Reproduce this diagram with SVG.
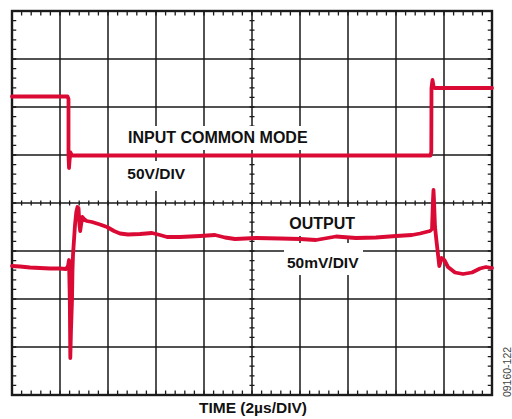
<svg xmlns="http://www.w3.org/2000/svg" width="512" height="419" viewBox="0 0 512 419">
<style>
.grid{stroke:#1a1a1a;stroke-width:1.5;fill:none}
.frame{stroke:#1a1a1a;stroke-width:2.4;fill:none}
.trace{stroke:#da0a35;stroke-width:3.8;fill:none;stroke-linejoin:round;stroke-linecap:round}
.lbl{font-family:"Liberation Sans",Arial,sans-serif;font-weight:bold;font-size:15.5px;fill:#111}
.box{fill:#fff}
</style>
<rect width="512" height="419" fill="#fff"/>
<g id="grid">
<path class="grid" d="M60,11V395M108,11V395M156,11V395M204,11V395M252,11V395M300,11V395M348,11V395M396,11V395M444,11V395M12,59H492M12,107H492M12,155H492M12,203H492M12,251H492M12,299H492M12,347H492"/>
<g id="ticks" fill="none" stroke="#1a1a1a" stroke-dasharray="1.3 8.3" stroke-dashoffset="0.65">
<path d="M12,13.25H492" stroke-width="4.5"/>
<path d="M12,392.75H492" stroke-width="4.5"/>
<path d="M14,11V395" stroke-width="4.5"/>
<path d="M490,11V395" stroke-width="4.5"/>
<path d="M12,203H492" stroke-width="5"/>
<path d="M252,11V395" stroke-width="5"/>
</g>
<rect class="frame" x="12" y="11" width="480" height="384"/>
</g>
<g id="label-boxes">
<rect class="box" x="124" y="126" width="188" height="24"/>
<rect class="box" x="122" y="161" width="70" height="30"/>
<rect class="box" x="284" y="207" width="79" height="29"/>
<rect class="box" x="284" y="243" width="79" height="32"/>
</g>
<g id="traces">
<path id="input-trace" class="trace" d="M12,96.5 L67.5,96.5 L68.5,99 L68.5,155 L69,168 L69.6,160 L70.5,152.5 L72,155.5 L430.5,155.5 L431.3,152 L431.5,88 L432.5,80 L433.5,86 L434.5,88 L492,88"/>
<path id="output-trace" class="trace" d="M12,266 L20,266.5 L30,267.5 L40,268 L50,268.5 L60,268.5 L66,269 L68,266 L69,260 L69.8,300 L70.3,358 L71,330 L72,300 L72.5,270 L73,255 L74,240 L75,225 L76.3,212 L77.5,207 L78.5,208 L79.5,225 L80.2,231 L81,225 L82.3,217 L84,219 L86.7,221 L92,222 L100,224.5 L107,227 L114,231 L120,233.5 L128,234.5 L140,234 L152,233 L160,235 L167,237 L180,237 L200,236 L215,235 L225,237.5 L235,239 L256,238 L280,238.5 L300,239 L316,240 L336,236.5 L356,238 L376,237.5 L396,236 L412,235 L420,233.5 L430,231 L432,229 L433,200 L433.5,190 L434,200 L435,227 L436.7,243 L438.3,257 L439.3,266 L440.5,262 L441.7,258 L444.3,260 L448,267 L455,272.5 L463,274 L472,272.5 L480,268.5 L486,267 L492,268"/>
</g>
<g id="labels">
<text class="lbl" x="128" y="143" style="font-size:16px">INPUT COMMON MODE</text>
<text class="lbl" x="127.3" y="179">50V/DIV</text>
<text class="lbl" x="289.3" y="229.3" style="font-size:16px">OUTPUT</text>
<text class="lbl" x="287" y="268">50mV/DIV</text>
<text class="lbl" x="253" y="413" text-anchor="middle">TIME (2µs/DIV)</text>
<text x="0" y="0" transform="translate(510.5,372) rotate(-90)" text-anchor="middle" font-family="Liberation Sans,Arial,sans-serif" font-size="10.5" fill="#444">09160-122</text>
</g>
</svg>
